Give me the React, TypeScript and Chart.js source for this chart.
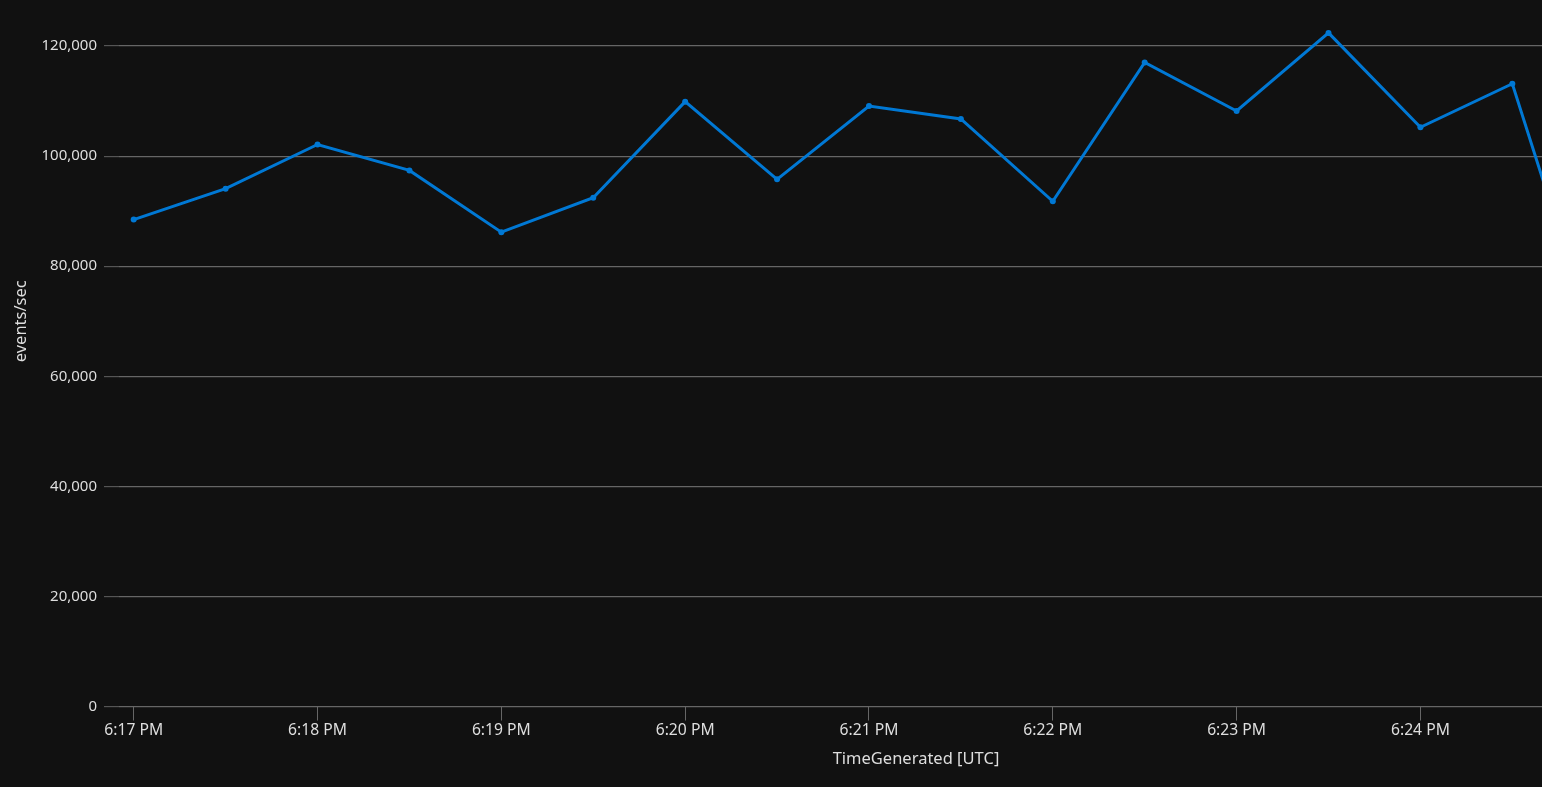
import React, { useEffect, useRef } from "react";
import { Chart, registerables } from "chart.js";

Chart.register(...registerables);

// Sample times (UTC), one every 30 s
const TIMES: string[] = [
  "18:17:00", "18:17:30", "18:18:00", "18:18:30", "18:19:00", "18:19:30",
  "18:20:00", "18:20:30", "18:21:00", "18:21:30", "18:22:00", "18:22:30",
  "18:23:00", "18:23:30", "18:24:00", "18:24:30", "18:25:00",
];
// events/sec
const EVENTS_PER_SEC: number[] = [
  88470, 94080, 102120, 97410, 86190, 92450,
  109900, 95780, 109100, 106750, 91800, 117010,
  108200, 122390, 105250, 113160, 60700,
];
const X_TICK_TIMES: string[] = [
  "18:17:00", "18:18:00", "18:19:00", "18:20:00", "18:21:00", "18:22:00",
  "18:23:00", "18:24:00", "18:25:00",
];
const X_TICK_LABELS: string[] = [
  "6:17 PM", "6:18 PM", "6:19 PM", "6:20 PM", "6:21 PM", "6:22 PM",
  "6:23 PM", "6:24 PM", "6:25 PM",
];
const Y_TICKS: number[] = [0, 20000, 40000, 60000, 80000, 100000, 120000, 140000];

const BASE = "18:17:00";
const toSec = (t: string) => {
  const [h, m, s] = t.split(":").map(Number);
  return h * 3600 + m * 60 + s;
};
const rel = (t: string) => toSec(t) - toSec(BASE);

const FONT = "'Noto Sans', 'Open Sans', sans-serif";
const TEXT = "#dedede";
const GRID = "#666666";

export default function App() {
  const ref = useRef<HTMLCanvasElement | null>(null);

  useEffect(() => {
    document.body.style.margin = "0";
    document.body.style.background = "#111111";
    const ctx = ref.current!.getContext("2d")!;
    const points = TIMES.map((t, i) => ({ x: rel(t), y: EVENTS_PER_SEC[i] }));
    const chart = new Chart(ctx, {
      type: "line",
      data: {
        datasets: [
          {
            label: "events/sec",
            data: points,
            borderColor: "#0078d4",
            backgroundColor: "#0078d4",
            borderWidth: 3,
            pointRadius: 3,
            pointBorderWidth: 0,
            pointHoverRadius: 3,
            tension: 0,
          },
        ],
      },
      options: {
        animation: false,
        responsive: false,
        maintainAspectRatio: false,
        layout: { padding: 0 },
        plugins: {
          legend: { display: false },
          tooltip: { enabled: false },
        },
        scales: {
          x: {
            type: "linear",
            min: -4.8,
            max: 515.5,
            afterBuildTicks: (scale: any) => {
              scale.ticks = X_TICK_TIMES.map((t) => ({ value: rel(t) }));
            },
            afterFit: (scale: any) => {
              scale.height = 80.5;
              scale.paddingLeft = 0;
              scale.paddingRight = 0;
              scale.paddingTop = 0;
              scale.paddingBottom = 0;
            },
            ticks: {
              color: TEXT,
              font: { family: FONT, size: 15.7 },
              padding: 1,
              maxRotation: 0,
              autoSkip: false,
              callback: (v: any) => {
                const i = X_TICK_TIMES.findIndex((t) => rel(t) === v);
                return i >= 0 ? X_TICK_LABELS[i] : "";
              },
            },
            grid: {
              drawOnChartArea: false,
              drawTicks: true,
              tickLength: 14,
              tickColor: GRID,
              color: GRID,
            },
            border: { display: false },
            title: {
              display: true,
              text: "TimeGenerated [UTC]",
              color: TEXT,
              font: { family: FONT, size: 16.5 },
              padding: { top: 0, bottom: 18 },
            },
          },
          y: {
            type: "linear",
            min: 0,
            max: 140000,
            afterBuildTicks: (scale: any) => {
              scale.ticks = Y_TICKS.map((v) => ({ value: v }));
            },
            afterFit: (scale: any) => {
              scale.width = 119;
              scale.paddingLeft = 0;
              scale.paddingRight = 0;
              scale.paddingTop = 0;
              scale.paddingBottom = 0;
            },
            ticks: {
              color: TEXT,
              font: { family: FONT, size: 15 },
              padding: 7,
              callback: (v: any) => Number(v).toLocaleString("en-US"),
            },
            grid: {
              color: GRID,
              tickColor: "#555555",
              tickLength: 15,
              lineWidth: 1.2,
            },
            border: { display: false },
            title: {
              display: true,
              text: "events/sec",
              color: TEXT,
              font: { family: FONT, size: 16.5 },
              padding: { top: 11, bottom: 0 },
            },
          },
        },
      },
    });
    return () => chart.destroy();
  }, []);

  return (
    <div
      style={{
        position: "fixed",
        left: 0,
        top: 0,
        width: 1542,
        height: 787,
        overflow: "hidden",
        background: "#111111",
      }}
    >
      <div style={{ position: "absolute", left: 0, top: -67, width: 1716, height: 854 }}>
        <canvas ref={ref} width={1716} height={854} style={{ display: "block" }} />
      </div>
    </div>
  );
}
